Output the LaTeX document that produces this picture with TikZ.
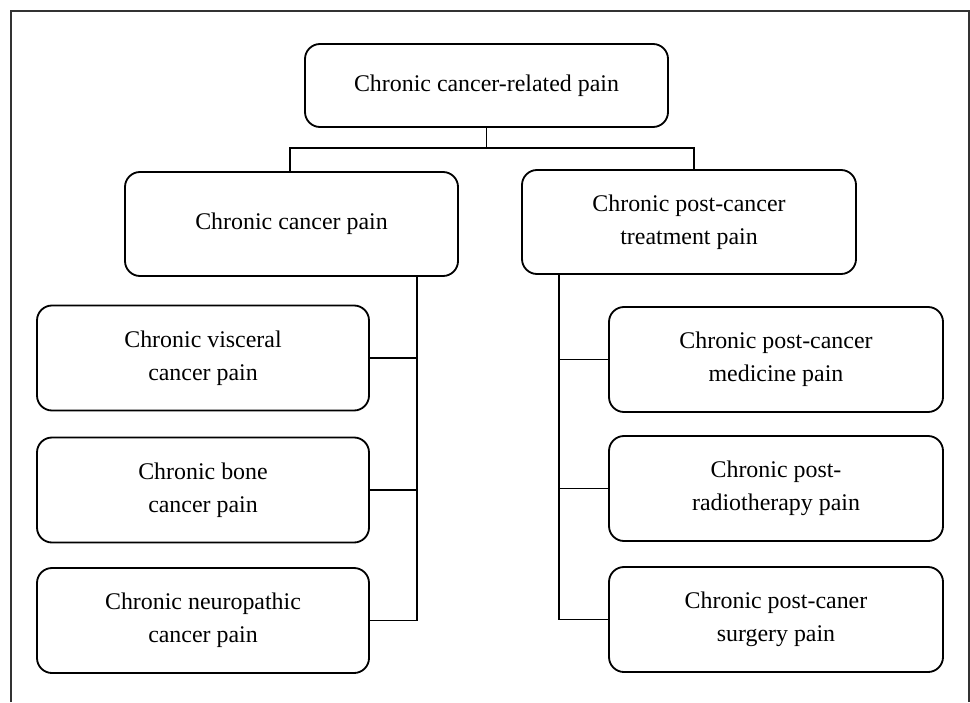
\documentclass[tikz,border=0pt]{standalone}
\usepackage{fontspec}
\setmainfont{Liberation Serif}
\usetikzlibrary{shapes, calc, positioning}

\tikzset{
    painbox/.style={draw, rounded corners=15*0.025cm, line width=1.3pt, align=center,
        font=\fontsize{17}{23.5}\selectfont, inner sep=0pt},
    link/.style={line width=1.3pt}
}

\begin{document}
\begin{tikzpicture}[>=latex, x=0.025cm, y=-0.025cm]
    \useasboundingbox (0,0) rectangle (970,702);
    \draw[line width=0.9pt, black!80] (11,702) -- (11,11) -- (969,11) -- (969,702);

    \node[painbox, minimum width=363*0.025cm, minimum height=83*0.025cm] (root) at (486.5,85.5) {Chronic cancer-related pain};

    \node[painbox, minimum width=333*0.025cm, minimum height=104*0.025cm] (cp) at (291.5,224) {Chronic cancer pain};
    \node[painbox, minimum width=334*0.025cm, minimum height=104*0.025cm] (ctp) at (689,222) {Chronic post-cancer\\treatment pain};

    \node[painbox, minimum width=332*0.025cm, minimum height=105*0.025cm] (vis) at (203,358) {Chronic visceral\\cancer pain};
    \node[painbox, minimum width=332*0.025cm, minimum height=105*0.025cm] (bone) at (203,490) {Chronic bone\\cancer pain};
    \node[painbox, minimum width=332*0.025cm, minimum height=105*0.025cm] (neu) at (203,620.5) {Chronic neuropathic\\cancer pain};

    \node[painbox, minimum width=334*0.025cm, minimum height=105*0.025cm] (med) at (776,359.5) {Chronic post-cancer\\medicine pain};
    \node[painbox, minimum width=334*0.025cm, minimum height=105*0.025cm] (rad) at (776,488.5) {Chronic post-\\radiotherapy pain};
    \node[painbox, minimum width=334*0.025cm, minimum height=105*0.025cm] (sur) at (776,619.5) {Chronic post-caner\\surgery pain};

    % top split
    \coordinate (split) at ($(root.south)+(0,20)$);
    \draw[link] (root.south) -- (split);
    \draw[link] ($(cp.north)+(-1.5,0)$) |- (split) -| ($(ctp.north)+(5,0)$);

    % left trunk
    \coordinate (ltrunk) at ($(cp.south east)+(-42,0)$);
    \draw[link] (ltrunk) |- (neu.east);
    \foreach \n in {vis, bone} {
        \draw[link] (\n.east) -- (\n.east -| ltrunk);
    };

    % right trunk
    \coordinate (rtrunk) at ($(ctp.south west)+(38,0)$);
    \draw[link] (rtrunk) |- (sur.west);
    \foreach \n in {med, rad} {
        \draw[link] (\n.west) -- (\n.west -| rtrunk);
    };
\end{tikzpicture}
\end{document}
